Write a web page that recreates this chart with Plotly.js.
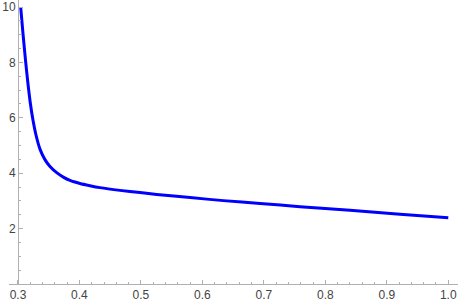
<!DOCTYPE html>
<html>
<head>
<meta charset="utf-8">
<script src="https://cdn.plot.ly/plotly-3.0.1.min.js"></script>
<style>html,body{margin:0;padding:0;background:#fff;}#chart{width:458px;height:303px;}</style>
</head>
<body>
<div id="chart"></div>
<script>
const xValues = [0.3044, 0.3081, 0.3122, 0.3163, 0.3203, 0.3244, 0.3293, 0.3358, 0.3439, 0.3521, 0.3635, 0.3737, 0.3846, 0.4009, 0.4171, 0.4334, 0.4659, 0.4985, 0.5256, 0.5800, 0.6340, 0.6939, 0.7588, 0.8401, 0.9214, 1.0000];
const yValues = [10.00, 9.06, 8.09, 7.22, 6.50, 5.92, 5.38, 4.87, 4.49, 4.24, 4.01, 3.86, 3.74, 3.63, 3.55, 3.48, 3.38, 3.30, 3.23, 3.12, 3.01, 2.91, 2.79, 2.66, 2.52, 2.39];
const xTicks = [0.3, 0.4, 0.5, 0.6, 0.7, 0.8, 0.9, 1.0];
const xTickLabels = ["0.3", "0.4", "0.5", "0.6", "0.7", "0.8", "0.9", "1.0"];
const yTicks = [2, 4, 6, 8, 10];
const yTickLabels = ["2", "4", "6", "8", "10"];

const xRange = [0.2854, 1.0158];
const yAxisAt = 0.3;

const trace = {
  x: xValues, y: yValues, type: 'scatter', mode: 'lines',
  line: {color: '#0000ff', width: 3, shape: 'spline', smoothing: 0.6},
  hoverinfo: 'skip'
};

const axisColor = '#b0b0b0';
const layout = {
  width: 458, height: 303,
  margin: {l: 9, r: 0, t: 0, b: 19, pad: 0},
  paper_bgcolor: '#ffffff', plot_bgcolor: '#ffffff',
  showlegend: false,
  font: {family: 'Liberation Sans, Arial, sans-serif', size: 12, color: '#444444'},
  xaxis: {
    range: xRange, showgrid: false, zeroline: false,
    showline: true, linecolor: axisColor, linewidth: 1,
    ticks: 'inside', ticklen: 4, tickcolor: axisColor, tickwidth: 1,
    tickmode: 'array', tickvals: xTicks, ticktext: xTickLabels,
    minor: {dtick: 0.02, tick0: 0.3, ticks: 'inside', ticklen: 2.5, tickcolor: axisColor, showgrid: false},
    fixedrange: true
  },
  yaxis: {
    range: [0, 10.253], showgrid: false, zeroline: false,
    anchor: 'free', position: (yAxisAt - xRange[0]) / (xRange[1] - xRange[0]),
    showline: true, linecolor: axisColor, linewidth: 1,
    ticks: 'inside', ticklen: 4, tickcolor: axisColor, tickwidth: 1,
    tickmode: 'array', tickvals: yTicks, ticktext: yTickLabels,
    minor: {dtick: 0.5, tick0: 0, ticks: 'inside', ticklen: 2.5, tickcolor: axisColor, showgrid: false},
    fixedrange: true
  }
};

Plotly.newPlot('chart', [trace], layout, {displayModeBar: false, staticPlot: true});
</script>
</body>
</html>
